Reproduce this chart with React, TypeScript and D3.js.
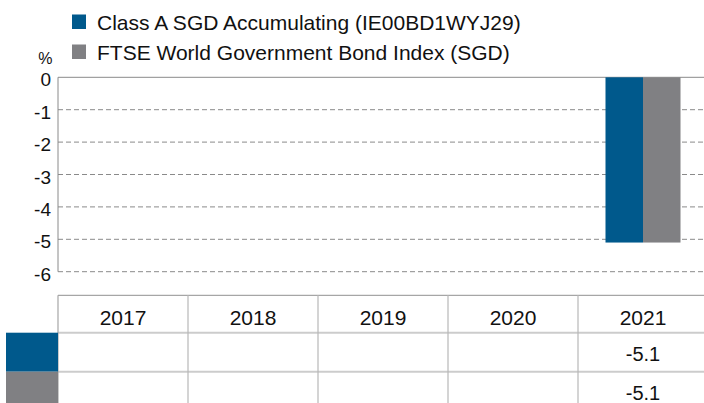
import React from "react";
import * as d3 from "d3";

const years = ["2017", "2018", "2019", "2020", "2021"];
const seriesNames = [
  "Class A SGD Accumulating (IE00BD1WYJ29)",
  "FTSE World Government Bond Index (SGD)",
];
const fundValues: (number | null)[] = [null, null, null, null, -5.1];
const indexValues: (number | null)[] = [null, null, null, null, -5.1];
const yTicks = [0, -1, -2, -3, -4, -5, -6];
const colors = ["#00598C", "#808083"];

const W = 704;
const H = 403;
const FONT = "'Liberation Sans', Arial, sans-serif";

export default function App() {
  const left = 58;
  const right = 708;
  const top = 77.3;
  const bottom = 271.7;

  const x = d3.scaleBand<string>().domain(years).range([left, right]).paddingInner(0.423).paddingOuter(0.2115);
  const cols = d3.scaleBand<string>().domain(years).range([left, right]).padding(0);
  const y = d3.scaleLinear().domain([0, -6]).range([top, bottom]);
  const sub = d3.scaleBand<string>().domain(["0", "1"]).range([0, x.bandwidth()]);

  const series = [fundValues, indexValues];

  const tableTop = 295.3;
  const headerBottom = 332.7;
  const row1Bottom = 371.7;
  const row2Bottom = 410.7;
  const rowBounds = [
    [headerBottom, row1Bottom],
    [row1Bottom, row2Bottom],
  ];

  return (
    <svg width={W} height={H} style={{ position: "absolute", left: 0, top: 0 }} fontFamily={FONT}>
      <rect x={0} y={0} width={W} height={H} fill="#fff" />
      {/* Legend */}
      {seriesNames.map((name, i) => (
        <g key={name}>
          <rect x={72} y={14.5 + i * 30} width={14} height={14.5} fill={colors[i]} />
          <text x={97} y={29.5 + i * 30} fontSize={21} fill="#111">
            {name}
          </text>
        </g>
      ))}
      <text x={52.5} y={64} fontSize={16} textAnchor="end" fill="#111">%</text>

      {/* Grid */}
      {yTicks.map((t) => (
        <g key={t}>
          <line
            x1={left}
            x2={W}
            y1={y(t)}
            y2={y(t)}
            stroke="#8a8a8a"
            strokeWidth={1}
            strokeDasharray={t === 0 ? undefined : "5,3"}
          />
          <text x={51} y={y(t) + 9} fontSize={19} textAnchor="end" fill="#111">
            {t}
          </text>
        </g>
      ))}
      <line x1={left} x2={left} y1={top} y2={bottom} stroke="#8a8a8a" strokeWidth={1} />

      {/* Bars */}
      {years.map((yr, j) =>
        series.map((vals, i) => {
          const v = vals[j];
          if (v == null) return null;
          return (
            <rect
              key={yr + i}
              x={(x(yr) as number) + (sub(String(i)) as number)}
              y={y(0)}
              width={sub.bandwidth()}
              height={y(v) - y(0)}
              fill={colors[i]}
            />
          );
        })
      )}

      {/* Table */}
      <line x1={left} x2={W} y1={tableTop} y2={tableTop} stroke="#a6a6a6" strokeWidth={1.2} />
      <line x1={left} x2={W} y1={headerBottom} y2={headerBottom} stroke="#cccccc" strokeWidth={2} />
      <line x1={left} x2={W} y1={row1Bottom} y2={row1Bottom} stroke="#cccccc" strokeWidth={2} />
      {years.map((yr) => (
        <g key={yr}>
          <line
            x1={cols(yr) as number}
            x2={cols(yr) as number}
            y1={tableTop}
            y2={H}
            stroke={yr === years[0] ? "#a6a6a6" : "#b8b8b8"}
            strokeWidth={1.2}
          />
          <text
            x={(cols(yr) as number) + cols.bandwidth() / 2}
            y={325}
            fontSize={21}
            textAnchor="middle"
            fill="#111"
          >
            {yr}
          </text>
        </g>
      ))}
      {series.map((vals, i) => (
        <g key={"row" + i}>
          <rect
            x={6}
            y={rowBounds[i][0]}
            width={left - 6}
            height={rowBounds[i][1] - rowBounds[i][0]}
            fill={colors[i]}
          />
          {years.map((yr, j) =>
            vals[j] == null ? null : (
              <text
                key={yr}
                x={(cols(yr) as number) + cols.bandwidth() / 2}
                y={rowBounds[i][0] + 28.3}
                fontSize={20}
                textAnchor="middle"
                fill="#111"
              >
                {(vals[j] as number).toFixed(1)}
              </text>
            )
          )}
        </g>
      ))}
    </svg>
  );
}
